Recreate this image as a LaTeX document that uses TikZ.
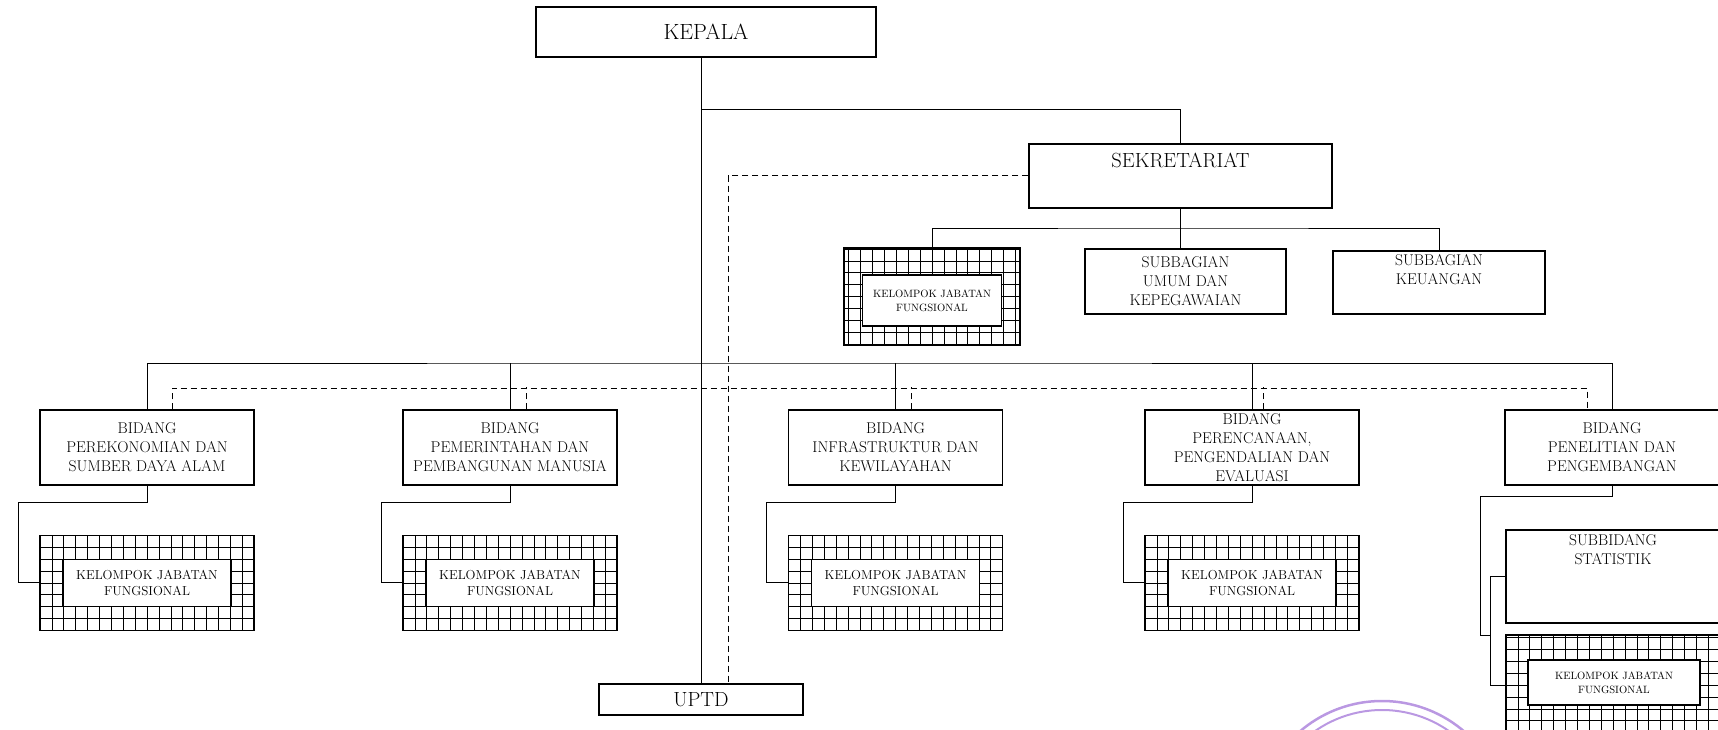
\documentclass[tikz,border=0pt]{standalone}
\usepackage{tikz}
\usetikzlibrary{positioning,calc}
\definecolor{stampviolet}{RGB}{186,152,226}

\begin{document}
\begin{tikzpicture}[x=1pt, y=-1pt, node distance=49pt, line width=1pt]
\tikzstyle{unit}=[rectangle,draw,line width=1.3pt,fill=white,inner sep=0pt,align=center,font=\fontsize{15.6}{19}\selectfont]
\tikzstyle{bidang}=[unit,minimum width=214pt,minimum height=75pt]
\tikzstyle{bigtext}=[font=\fontsize{20.5}{24}\selectfont]
\tikzstyle{boxtext}=[align=center,inner sep=0pt,font=\fontsize{15.6}{19}\selectfont]
\tikzstyle{kjf}=[rectangle,draw,line width=1.3pt,minimum width=214pt,minimum height=95pt,path picture={\draw[line width=0.6pt,step=11.9pt] (path picture bounding box.north west) grid (path picture bounding box.south east);}]
\tikzstyle{kjfin}=[unit,minimum width=168pt,minimum height=47pt,font=\fontsize{13}{16}\selectfont]
\tikzstyle{kjfsmall}=[unit,font=\fontsize{10.6}{14}\selectfont]
\tikzstyle{staff}=[line width=1pt,dash pattern=on 6pt off 4pt]
\useasboundingbox (0,0) rectangle (1718,730);

\node[unit,minimum width=340pt,minimum height=50pt,font=\fontsize{22}{26}\selectfont] (kepala) at (706,32) {KEPALA};
\node[unit,minimum width=303pt,minimum height=64pt] (sekr) at (1180.5,176) {};
\node[bigtext] (sekrt) at (1180.5,160) {SEKRETARIAT};
\node[unit,minimum width=204pt,minimum height=31pt,bigtext] (uptd) at (701,699.5) {UPTD};

\node[kjf,minimum width=176pt,minimum height=97pt] (k0) at (932,296.5) {};
\node[kjfsmall,minimum width=139pt,minimum height=51pt] (k0t) at (932,300.5) {KELOMPOK JABATAN\\FUNGSIONAL};
\node[unit,minimum width=201pt,minimum height=65pt] (umum) at (1185.5,281.5) {SUBBAGIAN\\UMUM DAN\\KEPEGAWAIAN};
\node[unit,minimum width=212pt,minimum height=63pt] (keu) at (1439,282.5) {};
\node[boxtext] (keut) at (1439,270) {SUBBAGIAN\\KEUANGAN};

\node[bidang] (b1) at (147,447.5) {BIDANG\\PEREKONOMIAN DAN\\SUMBER DAYA ALAM};
\node[bidang] (b2) at (510,447.5) {BIDANG\\PEMERINTAHAN DAN\\PEMBANGUNAN MANUSIA};
\node[bidang] (b3) at (895.5,447.5) {BIDANG\\INFRASTRUKTUR DAN\\KEWILAYAHAN};
\node[bidang] (b4) at (1252,447.5) {BIDANG\\PERENCANAAN,\\PENGENDALIAN DAN\\EVALUASI};
\node[bidang] (b5) at (1612,447.5) {BIDANG\\PENELITIAN DAN\\PENGEMBANGAN};

\node[kjf] (k1) [below=of b1] {};
\node[kjfin] (k1t) at (k1) {KELOMPOK JABATAN\\FUNGSIONAL};
\node[kjf] (k2) [below=of b2] {};
\node[kjfin] (k2t) at (k2) {KELOMPOK JABATAN\\FUNGSIONAL};
\node[kjf] (k3) [below=of b3] {};
\node[kjfin] (k3t) at (k3) {KELOMPOK JABATAN\\FUNGSIONAL};
\node[kjf] (k4) [below=of b4] {};
\node[kjfin] (k4t) at (k4) {KELOMPOK JABATAN\\FUNGSIONAL};

\node[unit,minimum width=214pt,minimum height=93pt] (sub) at (1613,576.5) {};
\node[boxtext] (subt) at (1613,550) {SUBBIDANG\\STATISTIK};
\node[kjf,minimum height=100pt] (k5) at (1613,685) {};
\node[kjfsmall,minimum width=172pt,minimum height=45pt] (k5t) at (1614,682.5) {KELOMPOK JABATAN\\FUNGSIONAL};

\coordinate (j0) at (701,110);
\coordinate (j1) at (1180.5,228);
\coordinate (j2) at (701,363);
\coordinate (d1) at (172,388);
\coordinate (d5) at (1587,388);
\coordinate (s5) at (1490,635);

\draw (kepala.south -| uptd.north) -- (uptd.north);
\draw (j0) -| (sekr.north);
\draw (sekr.south) -- (umum.north -| sekr.south);
\draw (k0.north) |- (j1) -| (keu.north);
\draw (b1.north) |- (j2) -| (b5.north);
\draw (b2.north) -- (b2.north |- j2);
\draw (b3.north) -- (b3.north |- j2);
\draw (b4.north) -- (b4.north |- j2);

\draw[staff] (sekr.west) -| ($(uptd.north)+(27,0)$);
\draw[staff] (d1 |- b1.north) -- (d1) -- (d5) -- (d5 |- b5.north);
\draw[staff] ($(b2.north)+(16,0)$) -- ++(0,-22);
\draw[staff] ($(b3.north)+(16,0)$) -- ++(0,-22);
\draw[staff] ($(b4.north)+(11,0)$) -- ++(0,-22);

\draw (b1.south) -- ++(0,17) -| ($(k1.west)+(-21,0)$) -- (k1.west);
\draw (b2.south) -- ++(0,17) -| ($(k2.west)+(-21,0)$) -- (k2.west);
\draw (b3.south) -- ++(0,17) -| ($(k3.west)+(-21,0)$) -- (k3.west);
\draw (b4.south) -- ++(0,17) -| ($(k4.west)+(-21,0)$) -- (k4.west);
\draw (b5.south) -- ++(0,11) -| ($(s5)+(-10,0)$) -- (s5);
\draw (sub.west) -- (sub.west -| s5) -- (k5.west -| s5) -- (k5.west);

\draw[stampviolet,line width=2.5pt] (1382,827) circle[radius=126pt];
\draw[stampviolet,line width=2pt] (1382,827) circle[radius=117pt];
\end{tikzpicture}
\end{document}
